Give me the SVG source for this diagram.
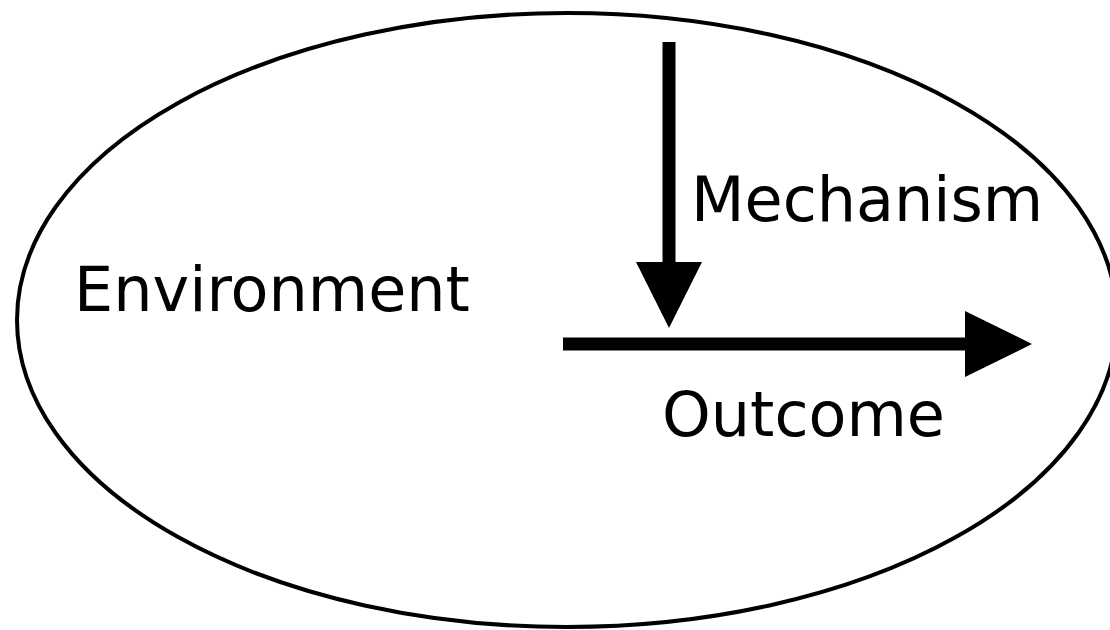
<svg xmlns="http://www.w3.org/2000/svg" width="1110" height="630" viewBox="0 0 1110 630">
<style>
.lbl{font-family:"DejaVu Sans",Verdana,sans-serif;font-size:62px;fill:#000}
.shaft{stroke:#000;stroke-width:13;fill:none}
.head{fill:#000}
</style>
<rect width="1110" height="630" fill="#fff"/>
<g id="environment">
<ellipse cx="567" cy="320" rx="550" ry="307" fill="#fff" stroke="#000" stroke-width="4"/>
<text class="lbl" x="74" y="311">Environment</text>
</g>
<g id="mechanism">
<text class="lbl" x="691" y="221">Mechanism</text>
</g>
<g id="outcome">
<text class="lbl" x="662" y="436">Outcome</text>
</g>
<g id="connectors">
<line class="shaft" x1="669" y1="42" x2="669" y2="265"/>
<polygon class="head" points="636,262 702,262 669,328"/>
<line class="shaft" x1="563" y1="344" x2="968" y2="344"/>
<polygon class="head" points="965,311 1032,344 965,377"/>
</g>
</svg>
